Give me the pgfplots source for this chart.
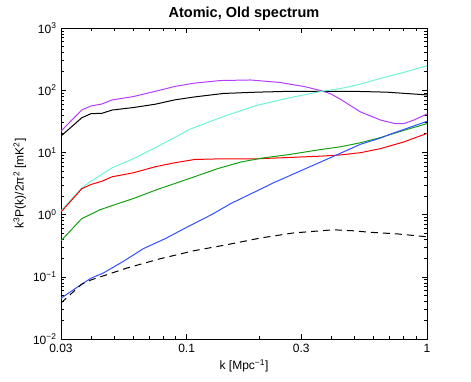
\documentclass[border=0pt]{standalone}
\usepackage{fontspec}
\setmainfont{Liberation Sans}
\usepackage{pgfplots}
\pgfplotsset{compat=1.18}

\definecolor{cPurple}{RGB}{180,60,255}
\definecolor{cCyan}{RGB}{110,245,215}
\definecolor{cGreen}{RGB}{20,160,20}
\definecolor{cBlue}{RGB}{50,80,255}

\begin{document}
\begin{tikzpicture}
\begin{axis}[
    scale only axis,
    width=366bp, height=311bp,
    xmode=log, ymode=log,
    xmin=0.03, xmax=1, ymin=1e-2, ymax=1e3,
    xtick={0.03,0.1,0.3,1},
    xticklabels={0.03,0.1,0.3,1},
    minor xtick={0.04,0.05,0.06,0.07,0.08,0.09,0.2,0.4,0.5,0.6,0.7,0.8,0.9},
    ytick={1e-2,1e-1,1,10,100,1000},
    yticklabels={10\textsuperscript{−2},10\textsuperscript{−1},10\textsuperscript{0},10\textsuperscript{1},10\textsuperscript{2},10\textsuperscript{3}},
    minor ytick={0.02,0.03,0.04,0.05,0.06,0.07,0.08,0.09,
                 0.2,0.3,0.4,0.5,0.6,0.7,0.8,0.9,
                 2,3,4,5,6,7,8,9,20,30,40,50,60,70,80,90,
                 200,300,400,500,600,700,800,900},
    tick pos=both, tick align=inside,
    major tick length=5bp, minor tick length=3bp,
    every tick/.style={black, line width=0.6bp},
    axis line style={line width=0.8bp},
    tick label style={font=\fontsize{12bp}{14bp}\selectfont},
    xticklabel style={yshift=-2bp},
    yticklabel style={xshift=-1bp},
    label style={font=\fontsize{12bp}{14bp}\selectfont},
    title style={font=\fontsize{14.5bp}{16bp}\selectfont\bfseries, yshift=-2bp},
    title={Atomic, Old spectrum},
    xlabel={k [Mpc\textsuperscript{−1}]},
    ylabel={k\textsuperscript{3}P(k)/2π\textsuperscript{2} [mK\textsuperscript{2}]},
    every axis plot/.append style={line width=1bp, no markers},
  ]
  % purple
  \addplot[cPurple] coordinates {
    (0.03,22) (0.0366,48) (0.04,55.8) (0.0444,60) (0.049,69.8) (0.06,79)
    (0.0741,96) (0.0894,115) (0.108,130) (0.138,143) (0.184,146) (0.245,133)
    (0.307,115) (0.36,99) (0.396,88) (0.436,71.6) (0.529,44.7) (0.64,33.2)
    (0.738,29) (0.80,29) (0.88,33) (1.0,41.5)
  };
  % black solid
  \addplot[black] coordinates {
    (0.03,18.3) (0.0366,36) (0.04,42) (0.0444,42.5) (0.049,48) (0.06,52.6)
    (0.074,59.5) (0.089,69.8) (0.108,78) (0.142,88.6) (0.196,93) (0.27,96)
    (0.396,96) (0.49,96) (0.68,93) (1.0,84)
  };
  % cyan
  \addplot[cCyan] coordinates {
    (0.03,1.15) (0.0366,2.69) (0.04,3.44) (0.049,5.66) (0.06,7.9) (0.074,11.9)
    (0.089,17.3) (0.103,23.5) (0.142,37.7) (0.196,57) (0.27,76) (0.36,95)
    (0.436,106) (0.529,125) (0.64,155) (0.80,193) (1.0,247)
  };
  % red
  \addplot[red] coordinates {
    (0.03,1.1) (0.0366,2.6) (0.04,3.05) (0.0444,3.44) (0.049,4.06) (0.06,4.7)
    (0.074,5.88) (0.089,6.8) (0.108,7.7) (0.142,7.9) (0.196,7.9) (0.27,8.3)
    (0.36,8.7) (0.436,9.1) (0.529,9.9) (0.64,11.5) (0.80,14.7) (1.0,20.2)
  };
  % green
  \addplot[cGreen] coordinates {
    (0.03,0.38) (0.0366,0.86) (0.0437,1.2) (0.0504,1.45) (0.06,1.81)
    (0.0754,2.53) (0.1,3.67) (0.135,5.5) (0.168,7.0) (0.206,8.1) (0.27,9.3)
    (0.36,11.1) (0.436,12.3) (0.529,14.3) (0.64,17.3) (0.80,22.6) (1.0,29)
  };
  % blue
  \addplot[cBlue] coordinates {
    (0.03,0.0453) (0.0366,0.076) (0.04,0.095) (0.045,0.115) (0.0545,0.177)
    (0.066,0.283) (0.0814,0.41) (0.1,0.624) (0.127,1.0) (0.152,1.49)
    (0.23,3.25) (0.396,8.2) (0.529,13.5) (0.64,17) (0.70,19.5) (1.0,31.6)
  };
  % black dashed
  \addplot[black, dash pattern=on 7bp off 5bp] coordinates {
    (0.03,0.038) (0.0366,0.076) (0.04,0.089) (0.0563,0.138) (0.0775,0.195)
    (0.107,0.262) (0.147,0.328) (0.2025,0.42) (0.278,0.507) (0.408,0.57)
    (0.49,0.55) (0.58,0.52) (0.75,0.49) (1.0,0.44)
  };
\end{axis}
\path[use as bounding box] ([shift={(-61bp,-43bp)}]current axis.south west)
  rectangle ([shift={(44bp,28bp)}]current axis.north east);
\end{tikzpicture}
\end{document}
